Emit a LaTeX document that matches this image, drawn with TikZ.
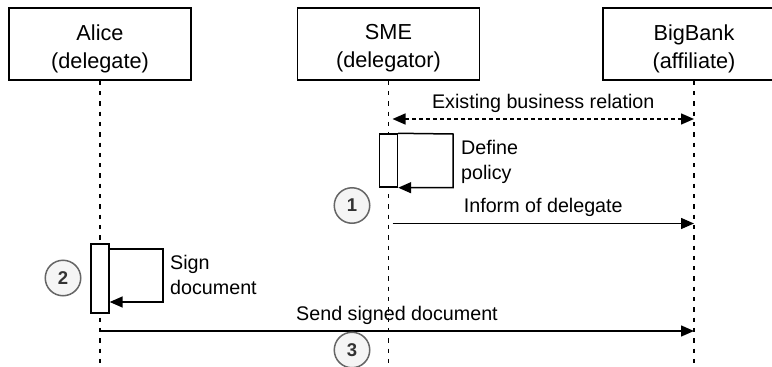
\documentclass[tikz,border=0pt]{standalone}
\usepackage{fontspec}
\setmainfont{Liberation Sans}
\usetikzlibrary{arrows.meta}
\definecolor{numline}{HTML}{666666}
\definecolor{numfill}{HTML}{F5F5F5}
\definecolor{numtext}{HTML}{333333}
\begin{document}
\begin{tikzpicture}[x=1pt,y=-1pt,
  hdr/.style={draw, line width=1.4pt, minimum width=182pt, minimum height=72pt, inner sep=0pt},
  hlbl/.style={align=center, font=\fontsize{21.7}{28}\selectfont, inner sep=0pt, yshift=-4.5pt},
  life/.style={line width=1.4pt, dash pattern=on 4.3pt off 6pt},
  act/.style={draw, fill=white, line width=1.4pt, minimum width=18pt, inner sep=0pt},
  msg/.style={line width=1.5pt, -{Triangle[length=13pt,width=11pt]}},
  dmsg/.style={line width=1.5pt, dash pattern=on 4pt off 3pt, {Triangle[length=13pt,width=11pt]}-{Triangle[length=13pt,width=11pt]}},
  lbl/.style={font=\fontsize{19.7}{25}\selectfont, inner sep=0pt},
  num/.style={circle, draw=numline, fill=numfill, line width=1.5pt, minimum size=35.5pt, inner sep=0pt, font=\fontsize{18.5}{18.5}\selectfont\bfseries, text=numtext}]
\useasboundingbox (0,0) rectangle (772,367);
\clip (0,0) rectangle (772,367);
% participants
\node[hdr, label={[hlbl]center:{Alice\\(delegate)}}] (alice) at (100,44) {};
\node[hdr, label={[hlbl]center:{SME\\(delegator)}}] (sme) at (388.5,44) {};
\node[hdr, label={[hlbl]center:{BigBank\\(affiliate)}}] (bank) at (694,44) {};
% lifelines
\coordinate (bot) at (0,372);
\draw[life] (alice.south) -- (alice.south |- bot);
\draw[life] (sme.south) -- (sme.south |- bot);
\draw[life] (bank.south) -- (bank.south |- bot);
% activations
\node[act, minimum height=53pt] (sact) at (388.5,160.5) {};
\node[act, minimum height=69pt] (aact) at (100,278.5) {};
% existing relation
\coordinate (y1) at (0,119);
\coordinate (e1) at (sme.south |- y1);
\coordinate (e2) at (bank.south |- y1);
\draw[dmsg] ([xshift=4pt]e1) -- (e2) node[midway, lbl, anchor=base, yshift=11pt] {Existing business relation};
% define policy
\coordinate (sl) at (453,134);
\draw[msg] (sact.north east) -- (sl) |- (sact.south east);
\node[lbl, anchor=west, align=left] (defp) at (461,162.4) {Define\\policy};
% inform
\coordinate (y2) at (0,223.5);
\coordinate (i1) at (sme.south |- y2);
\coordinate (i2) at (bank.south |- y2);
\draw[msg] ([xshift=4pt]i1) -- (i2) node[midway, lbl, anchor=base, yshift=11pt] {Inform of delegate};
% sign
\coordinate (al1) at (163,249);
\coordinate (al2) at (163,302);
\draw[msg] (aact.east |- al1) -- (al1) -- (al2) -- (aact.east |- al2);
\node[lbl, anchor=west, align=left] (signd) at (170,275.3) {Sign\\document};
% send
\coordinate (y3) at (0,331);
\coordinate (s1) at (alice.south |- y3);
\coordinate (s2) at (bank.south |- y3);
\draw[msg] (s1) -- (s2) node[midway, lbl, anchor=base, yshift=11pt] {Send signed document};
% step numbers
\node[num] (n1) at (352,205.5) {1};
\node[num] (n2) at (63,278) {2};
\node[num] (n3) at (352,350) {3};
\end{tikzpicture}
\end{document}
